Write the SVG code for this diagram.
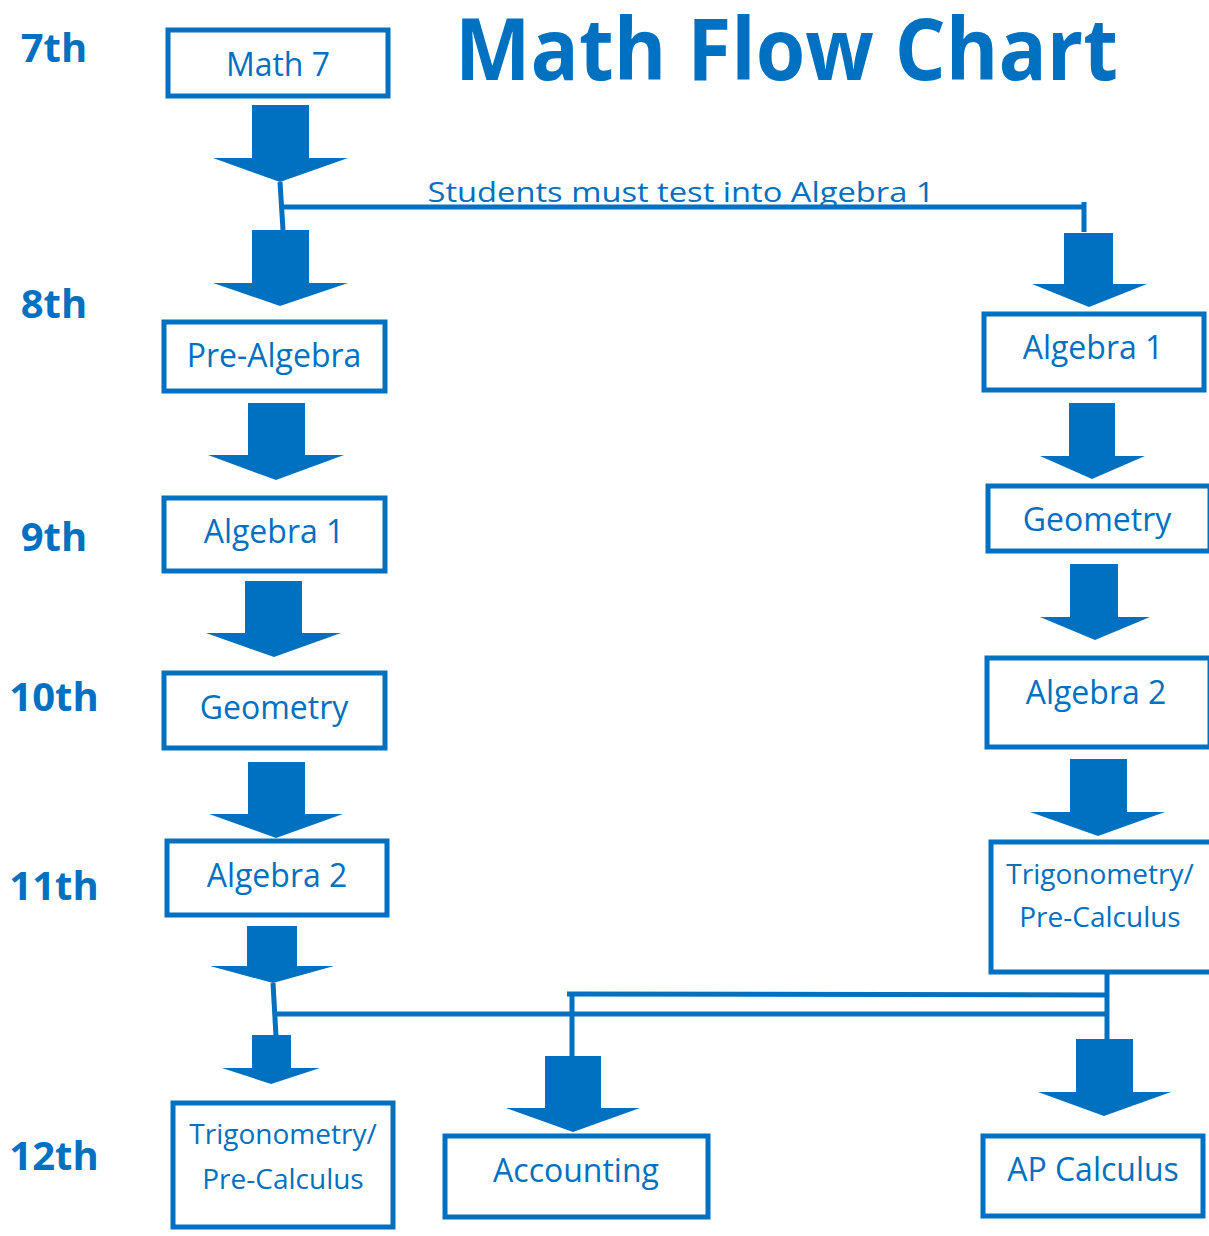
<svg xmlns="http://www.w3.org/2000/svg" width="1209" height="1236" viewBox="0 0 1209 1236">
<style>
.box{fill:#fff;stroke:#0070C0;stroke-width:5}
.lbl{font-family:"Open Sans","Noto Sans",sans-serif;font-size:32px;fill:#0070C0;text-anchor:middle}
.sm{font-size:28px}
.grade{font-family:"Open Sans","Noto Sans",sans-serif;font-weight:bold;font-size:40px;fill:#0070C0;text-anchor:middle}
.arr{fill:#0070C0}
.ln{stroke:#0070C0;stroke-width:5;fill:none}
</style>
<rect width="1209" height="1236" fill="#fff"/>
<text x="455" y="80" font-family="'Open Sans','Noto Sans',sans-serif" font-weight="bold" font-size="86" fill="#0070C0" textLength="663" lengthAdjust="spacingAndGlyphs">Math Flow Chart</text>
<g id="grades">
<text class="grade" x="54" y="62">7th</text>
<text class="grade" x="54" y="318">8th</text>
<text class="grade" x="54" y="551">9th</text>
<text class="grade" x="54" y="711">10th</text>
<text class="grade" x="54" y="900">11th</text>
<text class="grade" x="54" y="1170">12th</text>
</g>
<g id="connectors">
<polygon class="arr" points="252,105 309,105 309,158 348,158 280,182 213,158 252,158"/>
<polyline class="ln" points="280,182 283,230"/>
<polyline class="ln" points="283,207 1084,207"/>
<line class="ln" x1="1084" y1="202" x2="1084" y2="232"/>
<polygon class="arr" points="252,230 309,230 309,283 348,283 280,306 213,283 252,283"/>
<polygon class="arr" points="1064,233 1113,233 1113,284 1147,284 1089,307 1032,284 1064,284"/>
<polygon class="arr" points="248,403 305,403 305,455 344,455 276,480 208,455 248,455"/>
<polygon class="arr" points="245,581 302,581 302,633 341,633 274,657 206,633 245,633"/>
<polygon class="arr" points="248,762 305,762 305,814 343,814 276,838 209,814 248,814"/>
<polygon class="arr" points="247,926 297,926 297,966 334,966 273,983 210,966 247,966"/>
<polyline class="ln" points="273,983 276,1036"/>
<polygon class="arr" points="252,1035 291,1035 291,1068 320,1068 271,1084 222,1068 252,1068"/>
<line class="ln" x1="276" y1="1014" x2="1107" y2="1014"/>
<line class="ln" x1="567" y1="994" x2="1109" y2="995"/>
<line class="ln" x1="572" y1="992" x2="572" y2="1057"/>
<polygon class="arr" points="545,1056 601,1056 601,1108 640,1108 573,1132 506,1108 545,1108"/>
<polygon class="arr" points="1069,403 1115,403 1115,456 1145,456 1092,479 1040,456 1069,456"/>
<polygon class="arr" points="1070,564 1118,564 1118,617 1150,617 1095,640 1040,617 1070,617"/>
<polygon class="arr" points="1070,759 1127,759 1127,812 1165,812 1098,836 1030,812 1070,812"/>
<line class="ln" x1="1107" y1="972" x2="1107" y2="1041" stroke-width="4"/>
<polygon class="arr" points="1076,1039 1133,1039 1133,1092 1171,1092 1104,1116 1038,1092 1076,1092"/>
<text x="681" y="202" font-family="'Open Sans','Noto Sans',sans-serif" font-size="28" fill="#0070C0" text-anchor="middle" textLength="507" lengthAdjust="spacingAndGlyphs">Students must test into Algebra 1</text>
</g>
<g id="math7"><rect class="box" x="168" y="30" width="220" height="66"/><text class="lbl" x="278" y="76">Math 7</text></g>
<g id="prealgebra"><rect class="box" x="164" y="322" width="221" height="69"/><text class="lbl" x="274" y="367">Pre-Algebra</text></g>
<g id="algebra1-left"><rect class="box" x="164" y="498" width="221" height="73"/><text class="lbl" x="274" y="543">Algebra 1</text></g>
<g id="geometry-left"><rect class="box" x="164" y="673" width="221" height="75"/><text class="lbl" x="274" y="719">Geometry</text></g>
<g id="algebra2-left"><rect class="box" x="167" y="841" width="220" height="74"/><text class="lbl" x="277" y="887">Algebra 2</text></g>
<g id="trig-left"><rect class="box" x="173" y="1103" width="220" height="124"/><text class="lbl sm" x="283" y="1144">Trigonometry/</text><text class="lbl sm" x="283" y="1189">Pre-Calculus</text></g>
<g id="accounting"><rect class="box" x="445" y="1136" width="263" height="81"/><text class="lbl" x="576" y="1182">Accounting</text></g>
<g id="algebra1-right"><rect class="box" x="984" y="314" width="220" height="76"/><text class="lbl" x="1093" y="359">Algebra 1</text></g>
<g id="geometry-right"><rect class="box" x="988" y="486" width="222" height="65"/><text class="lbl" x="1097" y="531">Geometry</text></g>
<g id="algebra2-right"><rect class="box" x="987" y="658" width="223" height="89"/><text class="lbl" x="1096" y="704">Algebra 2</text></g>
<g id="trig-right"><rect class="box" x="991" y="842" width="240" height="130"/><text class="lbl sm" x="1100" y="884">Trigonometry/</text><text class="lbl sm" x="1100" y="927">Pre-Calculus</text></g>
<g id="apcalculus"><rect class="box" x="983" y="1136" width="220" height="80"/><text class="lbl" x="1093" y="1181">AP Calculus</text></g>
</svg>
